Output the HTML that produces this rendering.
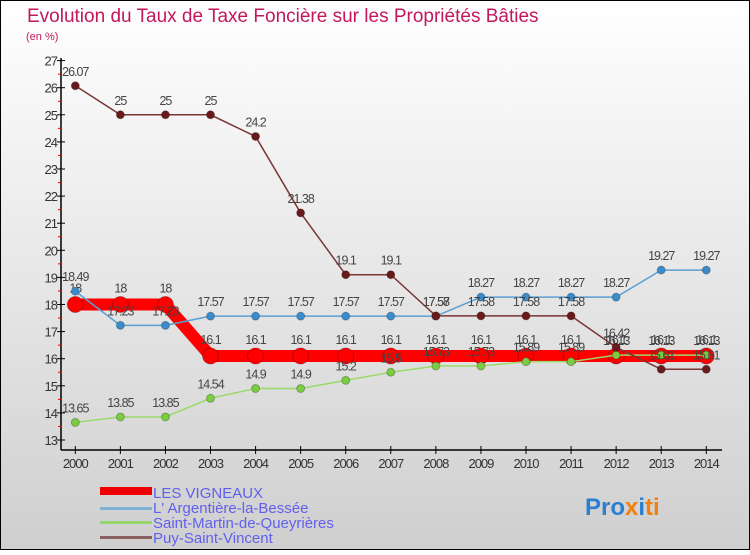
<!DOCTYPE html>
<html><head><meta charset="utf-8"><style>
body{margin:0}
#c{width:750px;height:550px;position:relative;font-family:"Liberation Sans",sans-serif}
</style></head><body>
<div id="c">
<svg id="s" width="750" height="550" xmlns="http://www.w3.org/2000/svg">
<defs><linearGradient id="bg" x1="0" y1="0" x2="0" y2="1"><stop offset="0" stop-color="#ffffff"/><stop offset="1" stop-color="#cfcfcf"/></linearGradient></defs>
<rect x="0.5" y="0.5" width="749" height="549" fill="url(#bg)" stroke="#000"/>
<text x="27" y="22" font-size="19" fill="#c2185b">Evolution du Taux de Taxe Foncière sur les Propriétés Bâties</text>
<text x="26" y="40" font-size="11" fill="#c2185b">(en %)</text>
<g id="axes"></g><g id="series"></g>
<g>
<rect x="100" y="487" width="52" height="8" fill="#e00"/>
<rect x="100" y="507" width="52" height="3" fill="#7fb0d6"/>
<rect x="100" y="521" width="52" height="3" fill="#98d470"/>
<rect x="100" y="536" width="52" height="3" fill="#8b6060"/>
<g font-size="15" fill="#6060f0">
<text x="153" y="498">LES VIGNEAUX</text>
<text x="153" y="513">L' Argentière-la-Bessée</text>
<text x="153" y="528">Saint-Martin-de-Queyrières</text>
<text x="153" y="543">Puy-Saint-Vincent</text>
</g></g>
<text x="585" y="515" font-size="24" font-weight="bold"><tspan fill="#2a7fd0">Pro</tspan><tspan fill="#f08010">x</tspan><tspan fill="#2a7fd0">i</tspan><tspan fill="#f08010">ti</tspan></text>
</svg></div>
<script>
const years=[2000,2001,2002,2003,2004,2005,2006,2007,2008,2009,2010,2011,2012,2013,2014];
const yTicks=[13,14,15,16,17,18,19,20,21,22,23,24,25,26,27];
const vigneaux=[18,18,18,16.1,16.1,16.1,16.1,16.1,16.1,16.1,16.1,16.1,16.1,16.1,16.1];
const argentiere=[18.49,17.23,17.23,17.57,17.57,17.57,17.57,17.57,17.57,18.27,18.27,18.27,18.27,19.27,19.27];
const saintMartin=[13.65,13.85,13.85,14.54,14.9,14.9,15.2,15.5,15.73,15.73,15.89,15.89,16.13,16.13,16.13];
const puy=[26.07,25,25,25,24.2,21.38,19.1,19.1,17.58,17.58,17.58,17.58,16.42,15.61,15.61];
const NS="http://www.w3.org/2000/svg";
const X=i=>75.3+i*45.07, Y=v=>440-(v-13)*27.1;
function mk(t,a,p){const e=document.createElementNS(NS,t);for(const k in a)e.setAttribute(k,a[k]);p.appendChild(e);return e;}
const ax=document.getElementById('axes');
let e=mk('line',{x1:61,y1:58,x2:61,y2:450,stroke:'#000','stroke-width':1.5},ax);

e=mk('line',{x1:61,y1:450,x2:722,y2:450,stroke:'#000','stroke-width':1.5},ax);

yTicks.forEach(v=>{const y=Y(v);mk('line',{x1:57,y1:y,x2:65,y2:y,stroke:'#000'},ax);
 if(v<27)mk('line',{x1:58,y1:y-13.55,x2:62,y2:y-13.55,stroke:'#e00'},ax);
 const t=mk('text',{x:57,y:y+5,'font-size':13,fill:'#333','text-anchor':'end','letter-spacing':'-1'},ax);t.textContent=v;
 });
years.forEach((yr,i)=>{const x=X(i);mk('line',{x1:x,y1:446,x2:x,y2:454,stroke:'#000'},ax);
 const t=mk('text',{x:x,y:468,'font-size':13,fill:'#333','text-anchor':'middle','letter-spacing':'-1'},ax);t.textContent=yr;
 });
const sg=document.getElementById('series');
function series(name,vals,color,w,r,mc){const g=mk('g',{},sg);
 
 mk('polyline',{points:vals.map((v,i)=>X(i)+','+Y(v)).join(' '),fill:'none',stroke:color,'stroke-width':w},g);
 vals.forEach((v,i)=>{const c=mk('circle',{cx:X(i),cy:Y(v),r:r,fill:mc,stroke:'rgba(0,0,0,0.25)'},g);
  
  const t=mk('text',{x:X(i),y:Y(v)-10-(r>5?2:0),'font-size':12.5,fill:'#444','text-anchor':'middle','letter-spacing':'-1'},g);t.textContent=v;
  });}
series('series-les-vigneaux',vigneaux,'#f00',12,8,'#f00');
series('series-argentiere',argentiere,'#5a9fd4',1.5,4,'#3a8ccc');
series('series-saint-martin',saintMartin,'#9ada6a',1.5,4,'#7acc40');
series('series-puy',puy,'#7a3535',1.5,4,'#6a1a1a');
</script>
</body></html>
